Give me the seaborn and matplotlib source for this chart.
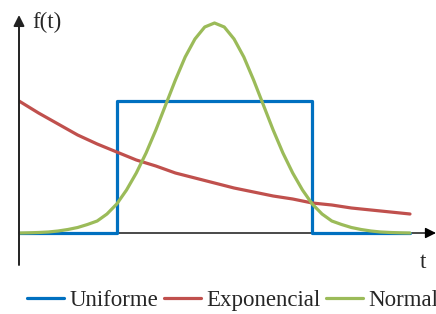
import matplotlib
matplotlib.use('agg')
import seaborn as sns
import matplotlib.pyplot as plt

# values (t from 0 to 10, f in arbitrary units)
uniform_t = [0, 2.5, 7.5, 10]
uniform_f = [0, 1.32, 0, 0]

expo_t = [0, 0.5, 1, 1.5, 2, 2.5, 3, 3.5, 4, 4.5, 5, 5.5, 6, 6.5, 7, 7.5, 8, 8.5, 9, 9.5, 10]
expo_f = [1.32, 1.20, 1.09, 0.98, 0.89, 0.81, 0.73, 0.67, 0.60, 0.55, 0.50,
          0.45, 0.41, 0.37, 0.34, 0.30, 0.28, 0.25, 0.23, 0.21, 0.19]

normal_t = [0, 0.25, 0.5, 0.75, 1, 1.25, 1.5, 1.75, 2, 2.25, 2.5, 2.75, 3, 3.25, 3.5, 3.75,
            4, 4.25, 4.5, 4.75, 5, 5.25, 5.5, 5.75, 6, 6.25, 6.5, 6.75, 7, 7.25, 7.5,
            7.75, 8, 8.25, 8.5, 8.75, 9, 9.25, 9.5, 9.75, 10]
normal_f = [0.0, 0.002, 0.005, 0.01, 0.02, 0.035, 0.055, 0.085, 0.12, 0.19, 0.29, 0.43,
            0.60, 0.80, 1.03, 1.28, 1.53, 1.76, 1.94, 2.06, 2.10, 2.06, 1.94, 1.76, 1.53,
            1.28, 1.03, 0.80, 0.60, 0.43, 0.29, 0.19, 0.12, 0.085, 0.055, 0.035, 0.02,
            0.01, 0.005, 0.002, 0.0]

labels = ["Uniforme", "Exponencial", "Normal"]
colors = ["#0070C0", "#C0504D", "#9BBB59"]


def main(output):
	sns.set_style("white")
	plt.rcParams['font.family'] = ['Liberation Serif', 'DejaVu Serif']

	fig = plt.figure(figsize=(4.36, 3.14), dpi=100)
	ax = fig.add_axes([19 / 436, 49 / 314, 1 - 19 / 436, 250 / 314])

	sns.lineplot(x=uniform_t, y=uniform_f, ax=ax, color=colors[0], lw=2.3,
				 drawstyle='steps-post', estimator=None, sort=False, label=labels[0])
	sns.lineplot(x=expo_t, y=expo_f, ax=ax, color=colors[1], lw=2.3,
				 estimator=None, label=labels[1])
	sns.lineplot(x=normal_t, y=normal_f, ax=ax, color=colors[2], lw=2.3,
				 estimator=None, label=labels[2])

	xmax = (436 - 19) / 39.1
	ax.set_xlim(0, xmax)
	ax.set_ylim(-0.32, 2.18)
	for s in ax.spines.values():
		s.set_visible(False)
	ax.set_xticks([])
	ax.set_yticks([])
	ax.set_xlabel('')
	ax.set_ylabel('')

	# axes with arrow heads
	ax.annotate('', xy=(0, 2.18), xytext=(0, -0.32), annotation_clip=False,
				arrowprops=dict(arrowstyle='-|>', color='#222222', lw=1.4,
								mutation_scale=16, shrinkA=0, shrinkB=0))
	ax.annotate('', xy=(xmax, 0), xytext=(0, 0), annotation_clip=False,
				arrowprops=dict(arrowstyle='-|>', color='black', lw=1.0,
								mutation_scale=16, shrinkA=0, shrinkB=0), zorder=1)

	ax.text(0.34, 2.11, 'f(t)', fontsize=16.5, ha='left', va='center')
	ax.text(10.33, -0.29, 't', fontsize=16.5, ha='center', va='center')

	ax.legend(loc='center left', bbox_to_anchor=(27 / 436, 14 / 314),
			  bbox_transform=fig.transFigure, ncol=3, frameon=False, fontsize=16.5,
			  handlelength=1.6, handletextpad=0.25, columnspacing=0.25,
			  borderpad=0, borderaxespad=0)

	fig.savefig(output, dpi=100)


if __name__ == "__main__":
	main("out.png")
